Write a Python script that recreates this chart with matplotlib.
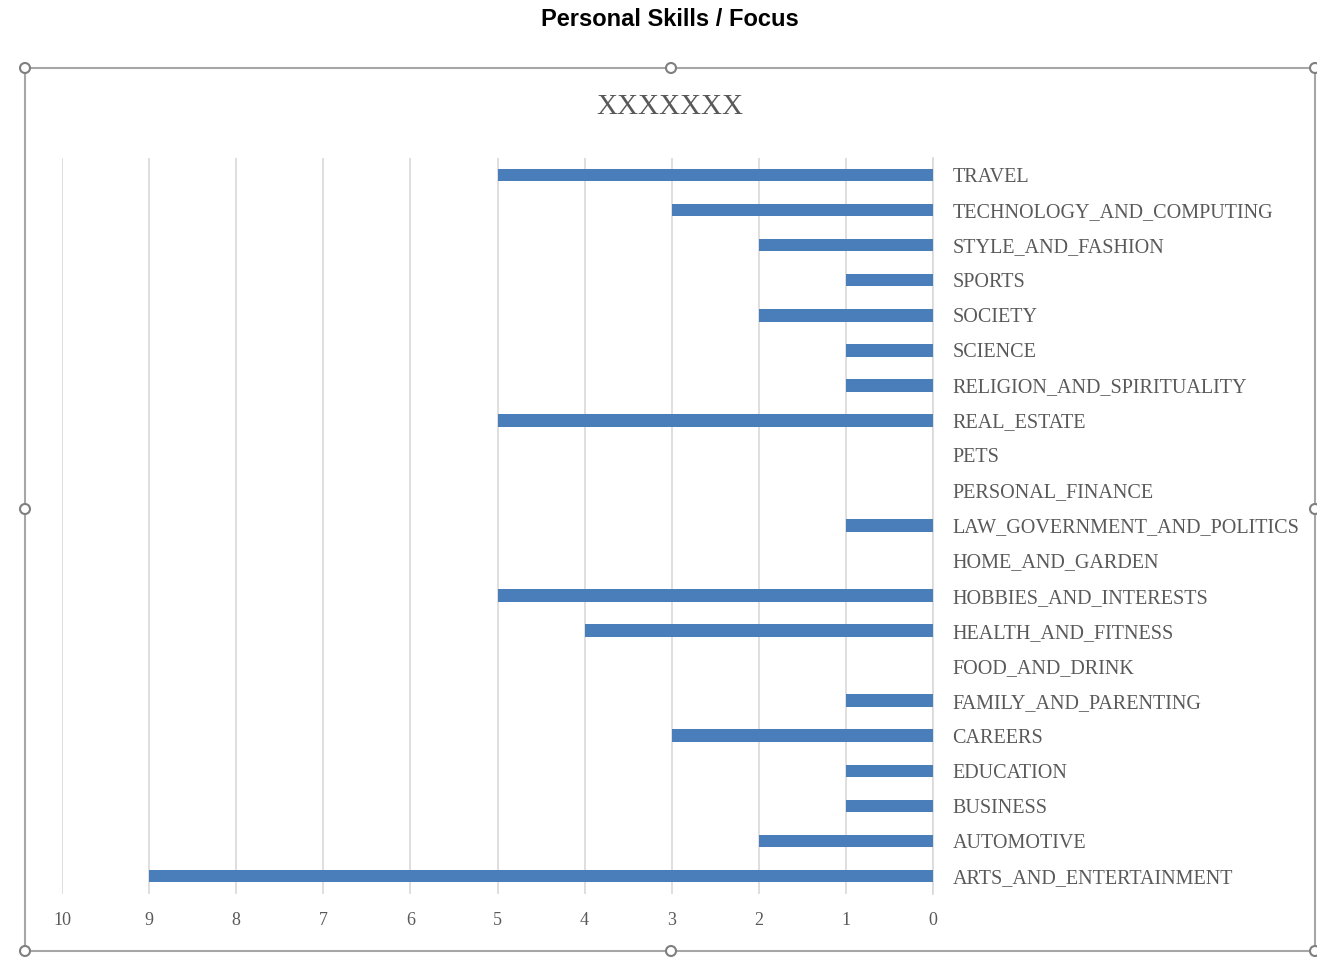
import matplotlib.pyplot as plt
from matplotlib.patches import Rectangle, Circle

# categories listed bottom-to-top as Excel plots them
categories = ['ARTS_AND_ENTERTAINMENT', 'AUTOMOTIVE', 'BUSINESS', 'EDUCATION', 'CAREERS',
              'FAMILY_AND_PARENTING', 'FOOD_AND_DRINK', 'HEALTH_AND_FITNESS',
              'HOBBIES_AND_INTERESTS', 'HOME_AND_GARDEN', 'LAW_GOVERNMENT_AND_POLITICS',
              'PERSONAL_FINANCE', 'PETS', 'REAL_ESTATE', 'RELIGION_AND_SPIRITUALITY',
              'SCIENCE', 'SOCIETY', 'SPORTS', 'STYLE_AND_FASHION',
              'TECHNOLOGY_AND_COMPUTING', 'TRAVEL']
values = [9, 2, 1, 1, 3, 1, 0, 4, 5, 0, 1, 0, 0, 5, 1, 1, 2, 1, 2, 3, 5]
x_ticks = list(range(0, 11))

fig = plt.figure(figsize=(13.17, 9.59), dpi=100)
ax = fig.add_axes([62 / 1317, 1 - 893.5 / 959, 871 / 1317, 736 / 959])

ax.barh(range(len(categories)), values, height=0.36, color='#4a7ebb', zorder=3)
ax.set_xlim(10, 0)
ax.set_ylim(-0.5, len(categories) - 0.5)
ax.set_xticks(x_ticks)
ax.set_yticks(range(len(categories)))
ax.set_yticklabels(categories, family='Liberation Serif', fontsize=14.5, color='#595959')
ax.yaxis.tick_right()
ax.tick_params(axis='y', length=0, pad=14)
ax.tick_params(axis='x', length=0, pad=13, labelcolor='#595959', labelsize=13)
for lab in ax.get_xticklabels():
    lab.set_family('Liberation Serif')
ax.grid(axis='x', color='#d9d9d9', linewidth=1.2, zorder=0)
for s in ['top', 'left', 'bottom']:
    ax.spines[s].set_visible(False)
ax.spines['right'].set_color('#d9d9d9')
ax.spines['right'].set_linewidth(1.2)

# outer chart title and inner title
fig.text(670 / 1317, 1 - 20 / 959, 'Personal Skills / Focus', ha='center', va='center',
         fontsize=17, fontweight='bold', family='Liberation Sans', color='black')
fig.text(670 / 1317, 1 - 107 / 959, 'XXXXXXX', ha='center', va='center',
         fontsize=21, family='Liberation Serif', color='#595959')

# selection frame with handles
W, H = 1317, 959
x0, x1, y0, y1 = 25, 1315, 68, 951
fig.patches.append(Rectangle((x0 / W, 1 - y1 / H), (x1 - x0) / W, (y1 - y0) / H,
                             transform=fig.transFigure, fill=False,
                             edgecolor='#a6a6a6', linewidth=1.5))
xm, ym = 671, 509
for hx, hy in [(x0, y0), (xm, y0), (x1, y0), (x0, ym), (x1, ym), (x0, y1), (xm, y1), (x1, y1)]:
    fig.patches.append(Circle((hx, H - hy), 5, transform=None, facecolor='white',
                              edgecolor='#7f7f7f', linewidth=1.5, zorder=5))

fig.savefig('out.png', dpi=100)
